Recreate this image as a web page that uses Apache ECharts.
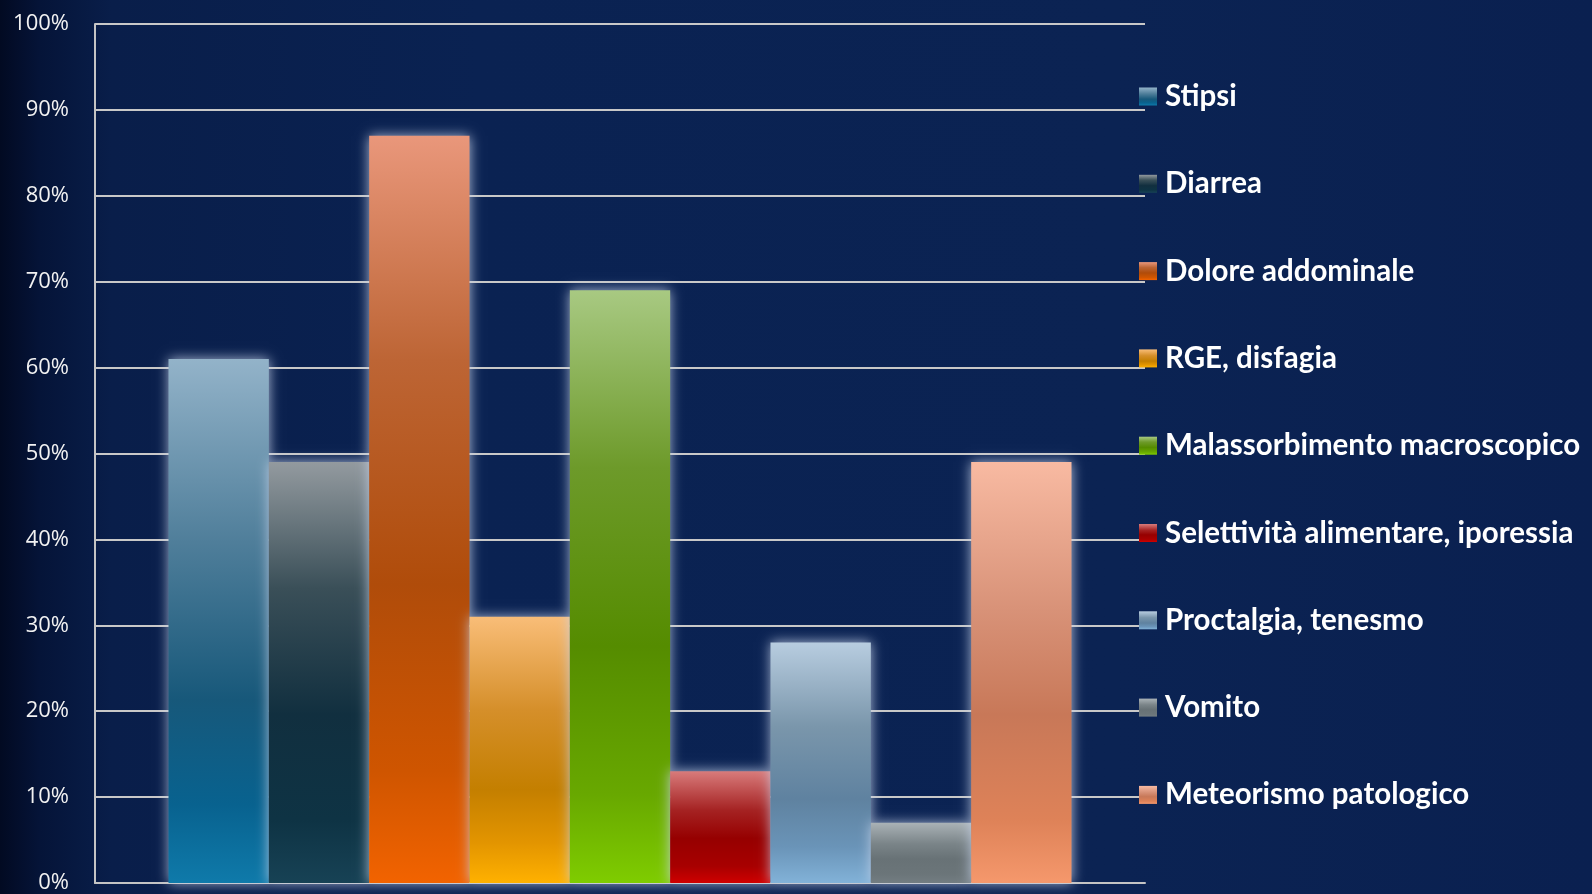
<!DOCTYPE html>
<html>
<head>
<meta charset="utf-8">
<script src="https://cdn.jsdelivr.net/npm/echarts@6/dist/echarts.min.js"></script>
<style>
html,body{margin:0;padding:0;width:1592px;height:894px;overflow:hidden;background:#0a2150;}
#c{width:1592px;height:894px;}
</style>
</head>
<body>
<div id="c"></div>
<script>
const seriesNames = ["Stipsi","Diarrea","Dolore addominale","RGE, disfagia","Malassorbimento macroscopico","Selettività alimentare, iporessia","Proctalgia, tenesmo","Vomito","Meteorismo patologico"];
const seriesValues = [61, 49, 87, 31, 69, 13, 28, 7, 49];
const categories = [""];
const yTicks = [0, 10, 20, 30, 40, 50, 60, 70, 80, 90, 100];

const gradStops = [
  [[0,'#93b3c9'],[0.35,'#4f7e9a'],[0.65,'#17587a'],[0.85,'#08628f'],[1,'#0f7aaa']],
  [[0,'#939a9f'],[0.3,'#3a4f58'],[0.6,'#112f3f'],[0.85,'#0e3344'],[1,'#174255']],
  [[0,'#e9977b'],[0.3,'#bd6535'],[0.6,'#b04c0a'],[0.85,'#cf5500'],[1,'#f26300']],
  [[0,'#f9bd78'],[0.35,'#d58f2a'],[0.65,'#c47f00'],[0.85,'#e39500'],[1,'#ffb100']],
  [[0,'#a8c982'],[0.3,'#6d9a2a'],[0.6,'#558c00'],[0.85,'#68a800'],[1,'#7fcc00']],
  [[0,'#d87b7b'],[0.35,'#a52222'],[0.6,'#960000'],[0.85,'#a80000'],[1,'#cf0000']],
  [[0,'#b8cde0'],[0.35,'#7a96ab'],[0.65,'#5f82a0'],[0.85,'#6a94b8'],[1,'#82b2d8']],
  [[0,'#aab2b6'],[0.35,'#7a8488'],[0.6,'#687276'],[0.85,'#6b7579'],[1,'#737d82']],
  [[0,'#f8baa2'],[0.35,'#d89278'],[0.6,'#c87858'],[0.85,'#de8258'],[1,'#f5986c']]
];

const chart = echarts.init(document.getElementById('c'), null, {renderer:'canvas'});

const series = seriesNames.map((name, i) => ({
  name: name,
  type: 'bar',
  data: [seriesValues[i]],
  barGap: '0%',
  barCategoryGap: '14%',
  itemStyle: {
    color: new echarts.graphic.LinearGradient(0, 0, 0, 1, gradStops[i].map(s => ({offset: s[0], color: s[1]}))),
    shadowColor: 'rgba(200,212,235,0.85)',
    shadowBlur: 12
  },
  emphasis: {disabled: true}
}));

chart.setOption({
  animation: false,
  backgroundColor: new echarts.graphic.LinearGradient(0, 0, 1, 0, [
    {offset: 0, color: '#020a22'},
    {offset: 0.025, color: '#051438'},
    {offset: 0.07, color: '#091e4a'},
    {offset: 0.3, color: '#0a2252'},
    {offset: 0.7, color: '#0b2353'},
    {offset: 1, color: '#0a2050'}
  ]),
  grid: {left: 95, right: 447, top: 24, bottom: 9, containLabel: false},
  legend: {
    orient: 'vertical',
    left: 1139,
    top: 81,
    padding: 0,
    itemWidth: 18,
    itemHeight: 18,
    itemGap: 56.3,
    icon: 'rect',
    selectedMode: false,
    data: seriesNames,
    textStyle: {color: '#ffffff', fontFamily: 'Lato', fontWeight: 'bold', fontSize: 29.5, lineHeight: 31, padding: [0,0,0,3]}
  },
  xAxis: {
    type: 'category',
    data: categories,
    axisLine: {show: true, lineStyle: {color: '#c4c4c4', width: 2}},
    axisTick: {show: false},
    axisLabel: {show: false},
    splitLine: {show: false}
  },
  yAxis: {
    type: 'value',
    min: yTicks[0],
    max: yTicks[yTicks.length - 1],
    interval: 10,
    axisLine: {show: true, lineStyle: {color: '#c4c4c4', width: 2}},
    axisTick: {show: false},
    axisLabel: {color: '#f2f2f2', fontFamily: 'Open Sans', fontSize: 22, margin: 26, formatter: v => v + '%'},
    splitLine: {show: true, lineStyle: {color: '#c8c8c8', width: 2}}
  },
  series: series
});
</script>
</body>
</html>
